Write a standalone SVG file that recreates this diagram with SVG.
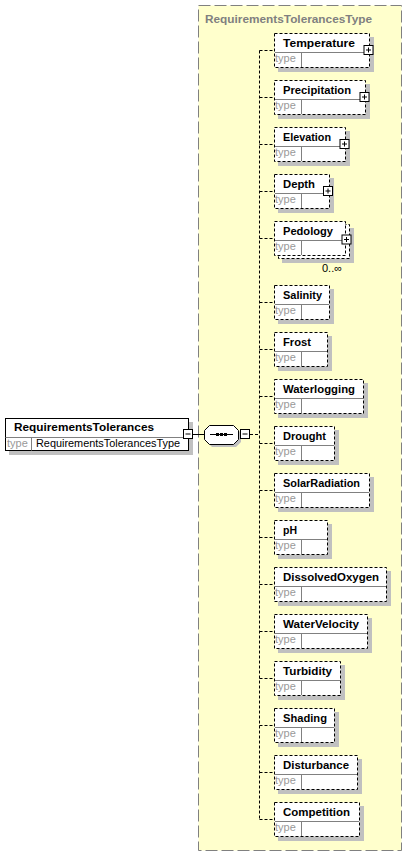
<svg xmlns="http://www.w3.org/2000/svg" width="420" height="858" viewBox="0 0 420 858">
<style>
text{font-family:"Liberation Sans",Arial,sans-serif;font-size:11px}
.nm{font-weight:bold;fill:#000}
.ty{fill:#999}
.tv{fill:#000}
.ttl{font-weight:bold;fill:#808080}
.sh{fill:#c0c0c0}
.box{fill:#fff;stroke:#000;stroke-width:1;stroke-dasharray:3,2}
.sbox{fill:#fff;stroke:#000;stroke-width:1}
.div{stroke:#808080;stroke-width:1;fill:none}
.pm{fill:#fff;stroke:#000;stroke-width:1}
.pl{stroke:#000;stroke-width:1}
.con{stroke:#000;stroke-width:1;fill:none;stroke-dasharray:3,2}
</style>
<defs>
<g id="plus"><rect class="pm" x="0" y="0" width="9" height="9"/><path class="pl" d="M2 4.5H7M4.5 2V7"/></g>
</defs>
<rect x="198.5" y="5.5" width="203" height="845" fill="#ffffcc" stroke="#808080" stroke-dasharray="12,4"/>
<text class="ttl" x="205" y="23" textLength="167" lengthAdjust="spacingAndGlyphs">RequirementsTolerancesType</text>

<g id="connectors">
<path class="con" d="M259.5 50.5V819.5"/>
<path class="con" d="M259.5 50.5H274M259.5 97.5H274M259.5 144.5H274M259.5 191.5H274M259.5 238.5H274M259.5 302.5H274M259.5 349.5H274M259.5 396.5H274M259.5 443.5H274M259.5 490.5H274M259.5 537.5H274M259.5 584.5H274M259.5 631.5H274M259.5 678.5H274M259.5 725.5H274M259.5 772.5H274M259.5 819.5H274"/>
<path class="pl" d="M193 434.5H204"/>
<path class="con" d="M250 434.5H259.5"/>
</g>

<g id="RequirementsTolerances">
<rect class="sh" x="9" y="422" width="184" height="33"/>
<rect class="sbox" x="5.5" y="418.5" width="183" height="32"/>
<path class="div" d="M5.5 437.5H188.5M31.5 437.5V450.5"/>
<text class="nm" x="14" y="431" textLength="140" lengthAdjust="spacingAndGlyphs">RequirementsTolerances</text>
<text class="ty" x="7" y="447">type</text>
<text class="tv" x="36" y="447" textLength="144" lengthAdjust="spacingAndGlyphs">RequirementsTolerancesType</text>
<rect class="pm" x="183.5" y="429.5" width="9" height="9"/>
<path class="pl" d="M185.5 434H190.5"/>
</g>

<g id="sequence">
<path class="sh" d="M212 428H236L241 433V442L236 447H212L207 442V433Z"/>
<path fill="#fff" stroke="#000" d="M209.5 425.5H233.5L238.5 430.5V439.5L233.5 444.5H209.5L204.5 439.5V430.5Z"/>
<path class="pl" d="M210 434.5H233"/>
<rect x="216" y="433" width="3" height="3" fill="#000"/>
<rect x="220" y="433" width="3" height="3" fill="#000"/>
<rect x="224" y="433" width="3" height="3" fill="#000"/>
<rect class="pm" x="240.5" y="429.5" width="9" height="9"/>
<path class="pl" d="M242.5 434H247.5"/>
</g>

<g id="Temperature">
<rect class="sh" x="278" y="37" width="96" height="35"/>
<rect class="box" x="274.5" y="33.5" width="95" height="34"/>
<path class="div" d="M275 52.5H369M301.5 52.5V67"/>
<text class="nm" x="283" y="47" textLength="72" lengthAdjust="spacingAndGlyphs">Temperature</text>
<text class="ty" x="275" y="62">type</text>
<use href="#plus" x="364" y="45.5"/>
</g>

<g id="Precipitation">
<rect class="sh" x="278" y="84" width="92" height="35"/>
<rect class="box" x="274.5" y="80.5" width="91" height="34"/>
<path class="div" d="M275 99.5H365M301.5 99.5V114"/>
<text class="nm" x="283" y="94" textLength="68" lengthAdjust="spacingAndGlyphs">Precipitation</text>
<text class="ty" x="275" y="109">type</text>
<use href="#plus" x="360" y="92.5"/>
</g>

<g id="Elevation">
<rect class="sh" x="278" y="131" width="72" height="35"/>
<rect class="box" x="274.5" y="127.5" width="71" height="34"/>
<path class="div" d="M275 146.5H345M301.5 146.5V161"/>
<text class="nm" x="283" y="141" textLength="48" lengthAdjust="spacingAndGlyphs">Elevation</text>
<text class="ty" x="275" y="156">type</text>
<use href="#plus" x="340" y="139.5"/>
</g>

<g id="Depth">
<rect class="sh" x="278" y="178" width="56" height="35"/>
<rect class="box" x="274.5" y="174.5" width="55" height="34"/>
<path class="div" d="M275 193.5H329M301.5 193.5V208"/>
<text class="nm" x="283" y="188" textLength="32" lengthAdjust="spacingAndGlyphs">Depth</text>
<text class="ty" x="275" y="203">type</text>
<use href="#plus" x="323.5" y="186.5"/>
</g>

<g id="Pedology">
<rect class="sh" x="282" y="228" width="72" height="35"/>
<rect class="box" x="278.5" y="224.5" width="71" height="34"/>
<rect class="box" x="274.5" y="221.5" width="71" height="34"/>
<path class="div" d="M275 240.5H345M301.5 240.5V255"/>
<text class="nm" x="283" y="235" textLength="50" lengthAdjust="spacingAndGlyphs">Pedology</text>
<text class="ty" x="275" y="250">type</text>
<use href="#plus" x="342" y="235"/>
<text class="tv" x="322" y="272" font-size="10">0..∞</text>
</g>

<g id="Salinity">
<rect class="sh" x="278" y="289" width="56" height="35"/>
<rect class="box" x="274.5" y="285.5" width="55" height="34"/>
<path class="div" d="M275 304.5H329M301.5 304.5V319"/>
<text class="nm" x="283" y="299" textLength="39" lengthAdjust="spacingAndGlyphs">Salinity</text>
<text class="ty" x="275" y="314">type</text>
</g>

<g id="Frost">
<rect class="sh" x="278" y="336" width="54" height="35"/>
<rect class="box" x="274.5" y="332.5" width="53" height="34"/>
<path class="div" d="M275 351.5H327M301.5 351.5V366"/>
<text class="nm" x="283" y="346" textLength="28" lengthAdjust="spacingAndGlyphs">Frost</text>
<text class="ty" x="275" y="361">type</text>
</g>

<g id="Waterlogging">
<rect class="sh" x="278" y="383" width="90" height="35"/>
<rect class="box" x="274.5" y="379.5" width="89" height="34"/>
<path class="div" d="M275 398.5H363M301.5 398.5V413"/>
<text class="nm" x="283" y="393" textLength="72" lengthAdjust="spacingAndGlyphs">Waterlogging</text>
<text class="ty" x="275" y="408">type</text>
</g>

<g id="Drought">
<rect class="sh" x="278" y="430" width="61" height="35"/>
<rect class="box" x="274.5" y="426.5" width="60" height="34"/>
<path class="div" d="M275 445.5H334M301.5 445.5V460"/>
<text class="nm" x="283" y="440" textLength="43" lengthAdjust="spacingAndGlyphs">Drought</text>
<text class="ty" x="275" y="455">type</text>
</g>

<g id="SolarRadiation">
<rect class="sh" x="278" y="477" width="96" height="35"/>
<rect class="box" x="274.5" y="473.5" width="95" height="34"/>
<path class="div" d="M275 492.5H369M301.5 492.5V507"/>
<text class="nm" x="283" y="487" textLength="77" lengthAdjust="spacingAndGlyphs">SolarRadiation</text>
<text class="ty" x="275" y="502">type</text>
</g>

<g id="pH">
<rect class="sh" x="278" y="524" width="54" height="35"/>
<rect class="box" x="274.5" y="520.5" width="53" height="34"/>
<path class="div" d="M275 539.5H327M301.5 539.5V554"/>
<text class="nm" x="283" y="534" textLength="14" lengthAdjust="spacingAndGlyphs">pH</text>
<text class="ty" x="275" y="549">type</text>
</g>

<g id="DissolvedOxygen">
<rect class="sh" x="278" y="571" width="113" height="35"/>
<rect class="box" x="274.5" y="567.5" width="112" height="34"/>
<path class="div" d="M275 586.5H386M301.5 586.5V601"/>
<text class="nm" x="283" y="581" textLength="96" lengthAdjust="spacingAndGlyphs">DissolvedOxygen</text>
<text class="ty" x="275" y="596">type</text>
</g>

<g id="WaterVelocity">
<rect class="sh" x="278" y="618" width="94" height="35"/>
<rect class="box" x="274.5" y="614.5" width="93" height="34"/>
<path class="div" d="M275 633.5H367M301.5 633.5V648"/>
<text class="nm" x="283" y="628" textLength="76" lengthAdjust="spacingAndGlyphs">WaterVelocity</text>
<text class="ty" x="275" y="643">type</text>
</g>

<g id="Turbidity">
<rect class="sh" x="278" y="665" width="67" height="35"/>
<rect class="box" x="274.5" y="661.5" width="66" height="34"/>
<path class="div" d="M275 680.5H340M301.5 680.5V695"/>
<text class="nm" x="283" y="675" textLength="49" lengthAdjust="spacingAndGlyphs">Turbidity</text>
<text class="ty" x="275" y="690">type</text>
</g>

<g id="Shading">
<rect class="sh" x="278" y="712" width="61" height="35"/>
<rect class="box" x="274.5" y="708.5" width="60" height="34"/>
<path class="div" d="M275 727.5H334M301.5 727.5V742"/>
<text class="nm" x="283" y="722" textLength="44" lengthAdjust="spacingAndGlyphs">Shading</text>
<text class="ty" x="275" y="737">type</text>
</g>

<g id="Disturbance">
<rect class="sh" x="278" y="759" width="84" height="35"/>
<rect class="box" x="274.5" y="755.5" width="83" height="34"/>
<path class="div" d="M275 774.5H357M301.5 774.5V789"/>
<text class="nm" x="283" y="769" textLength="66" lengthAdjust="spacingAndGlyphs">Disturbance</text>
<text class="ty" x="275" y="784">type</text>
</g>

<g id="Competition">
<rect class="sh" x="278" y="806" width="86" height="35"/>
<rect class="box" x="274.5" y="802.5" width="85" height="34"/>
<path class="div" d="M275 821.5H359M301.5 821.5V836"/>
<text class="nm" x="283" y="816" textLength="67" lengthAdjust="spacingAndGlyphs">Competition</text>
<text class="ty" x="275" y="831">type</text>
</g>
</svg>
